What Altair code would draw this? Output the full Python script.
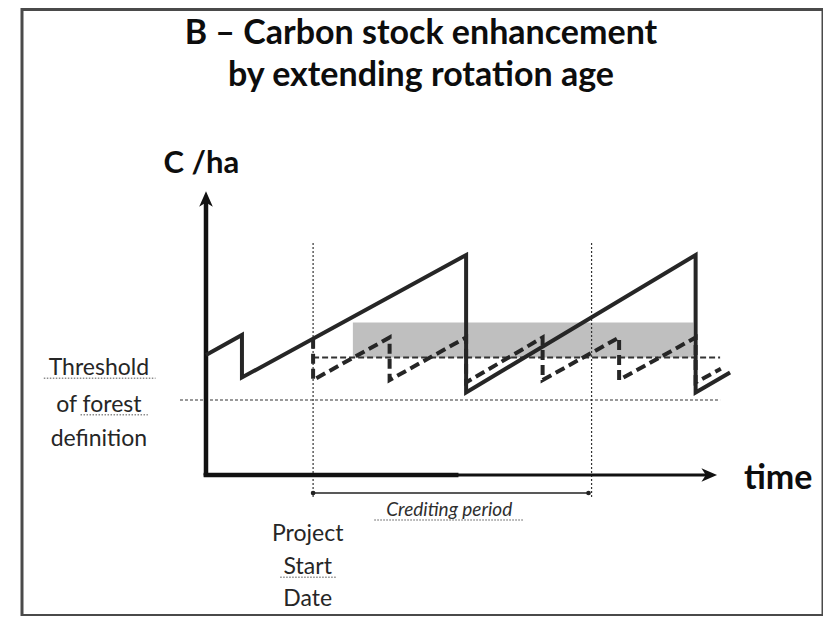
import altair as alt
import pandas as pd

# ---------------- data (time in years, carbon stock in arbitrary C/ha units) -------------
# project scenario: extended rotation (solid line)
proj_t = [0, 4.7, 4.7, 34, 34, 64, 64, 68.5]
proj_c = [48, 56, 39, 88, 33, 88, 33, 41]

# baseline scenario: short rotation (dashed line)
base_t = [14, 14, 24, 24, 34, 34, 44, 44, 54, 54, 64, 64, 67.3]
base_c = [54.5, 38, 55, 38, 55, 37, 55, 38, 55, 38, 55, 37, 42.5]

threshold_c = 30            # threshold of forest definition
threshold_t = [-3.4, 67.2]
base_avg_c = 47             # long-term average of baseline
base_avg_t = [14, 67.2]
gain_t = [19.2, 63.7]       # carbon stock enhancement band
gain_c = [47, 61]
project_start_t = 14
crediting_end_t = 50.4
marker_c = [-8.8, 92.8]
bracket_c = -7.2
y_axis_top = 113.5
x_axis_end = 66.8
x_axis_heavy_end = 33

title_lines = ["B \u2013 Carbon stock enhancement", "by extending rotation age"]
threshold_lines = ["Threshold", "of forest", "definition"]
psd_lines = ["Project", "Start", "Date"]

# ---------------- scales ----------------
W, H = 801, 606
xs = alt.Scale(domain=[-24.05, 80.65], range=[0, W], nice=False, zero=False)
ys = alt.Scale(domain=[-56.2, 186.2], range=[H, 0], nice=False, zero=False)
FONT = "Lato"
INK = "#262626"


def X(f="t"):
    return alt.X(f"{f}:Q", scale=xs, axis=None)


def Y(f="c"):
    return alt.Y(f"{f}:Q", scale=ys, axis=None)


# gain band
gain_df = pd.DataFrame({"t": [gain_t[0]], "t2": [gain_t[1]], "c": [gain_c[0]], "c2": [gain_c[1]]})
band = alt.Chart(gain_df).mark_rect(color="#bfbfbf").encode(
    x=X(), x2="t2:Q", y=Y(), y2="c2:Q")

# threshold dotted line
thr_df = pd.DataFrame({"t": [threshold_t[0]], "t2": [threshold_t[1]], "c": [threshold_c]})
thr = alt.Chart(thr_df).mark_rule(color="#333333", strokeWidth=1.2, strokeDash=[3, 2]).encode(
    x=X(), x2="t2:Q", y=Y())

# vertical markers (project start, end of crediting period)
mk_df = pd.DataFrame({"t": [project_start_t, crediting_end_t],
                      "c": [marker_c[0]] * 2, "c2": [marker_c[1]] * 2})
markers = alt.Chart(mk_df).mark_rule(color="#333333", strokeWidth=1.2, strokeDash=[2, 2]).encode(
    x=X(), y=Y(), y2="c2:Q")

# baseline average dashed line
avg_df = pd.DataFrame({"t": [base_avg_t[0]], "t2": [base_avg_t[1]], "c": [base_avg_c]})
avg = alt.Chart(avg_df).mark_rule(color="#333333", strokeWidth=2.2, strokeDash=[6, 3]).encode(
    x=X(), x2="t2:Q", y=Y())

# axes
yax_df = pd.DataFrame({"t": [0], "c": [0], "c2": [y_axis_top - 4]})
yax = alt.Chart(yax_df).mark_rule(color="#111111", strokeWidth=4.5).encode(x=X(), y=Y(), y2="c2:Q")
xax_df = pd.DataFrame({"t": [-0.3], "t2": [x_axis_end - 1.2], "c": [0]})
xax = alt.Chart(xax_df).mark_rule(color="#111111", strokeWidth=3).encode(x=X(), x2="t2:Q", y=Y())
xax2_df = pd.DataFrame({"t": [-0.3], "t2": [x_axis_heavy_end], "c": [0]})
xax2 = alt.Chart(xax2_df).mark_rule(color="#111111", strokeWidth=4.5).encode(x=X(), x2="t2:Q", y=Y())

ARROW = "M0,0 L-0.7,1.6 L0,1.15 L0.7,1.6 Z"
arr_df = pd.DataFrame({"t": [0, x_axis_end], "c": [y_axis_top, 0], "ang": [0, 90]})
arrows = alt.Chart(arr_df).mark_point(shape=ARROW, filled=True, color="#111111", size=380,
                                      opacity=1).encode(
    x=X(), y=Y(), angle=alt.Angle("ang:Q", scale=None))

# carbon stock lines
proj_df = pd.DataFrame({"t": proj_t, "c": proj_c, "i": range(len(proj_t))})
proj = alt.Chart(proj_df).mark_line(color=INK, strokeWidth=4).encode(x=X(), y=Y(), order="i:Q")
base_df = pd.DataFrame({"t": base_t, "c": base_c, "i": range(len(base_t))})
base = alt.Chart(base_df).mark_line(color=INK, strokeWidth=4, strokeDash=[10, 5]).encode(
    x=X(), y=Y(), order="i:Q")

# crediting period bracket
br_df = pd.DataFrame({"t": [project_start_t], "t2": [crediting_end_t - 0.4], "c": [bracket_c]})
bracket = alt.Chart(br_df).mark_rule(color="#222222", strokeWidth=1.6).encode(x=X(), x2="t2:Q", y=Y())
brp_df = pd.DataFrame({"t": [project_start_t, crediting_end_t - 0.4], "c": [bracket_c] * 2})
brp = alt.Chart(brp_df).mark_point(filled=True, color="#222222", size=22, opacity=1).encode(x=X(), y=Y())

# ---------------- text annotations ----------------
thr_base = [40.0, 25.4, 11.6]
psd_base = [-26.4, -39.6, -52.4]
ital_base = -16.4
txt_rows = []
for s, c in zip(title_lines, [172.4, 155.6]):
    txt_rows.append(dict(text=s, t=28.1, c=c, kind="title"))
for s, c in zip(threshold_lines, thr_base):
    txt_rows.append(dict(text=s, t=-14.0, c=c, kind="reg"))
for s, c in zip(psd_lines, psd_base):
    txt_rows.append(dict(text=s, t=13.3, c=c, kind="reg"))
txt_rows.append(dict(text="C /ha", t=-0.6, c=120.8, kind="lab"))
txt_rows.append(dict(text="time", t=74.8, c=-5.6, kind="time"))
txt_rows.append(dict(text="Crediting period", t=31.8, c=ital_base, kind="ital"))
tdf = pd.DataFrame(txt_rows)


def tlayer(kind, **kw):
    return alt.Chart(tdf).transform_filter(alt.datum.kind == kind).mark_text(
        font=FONT, baseline="alphabetic", align="center", **kw).encode(x=X(), y=Y(), text="text:N")


texts = [
    tlayer("title", fontSize=34, fontWeight="bold", color="#0d0d0d"),
    tlayer("reg", fontSize=23, color="#262626"),
    tlayer("lab", fontSize=31, fontWeight="bold", color="#0d0d0d"),
    tlayer("time", fontSize=34, fontWeight="bold", color="#0d0d0d"),
    tlayer("ital", fontSize=19, fontStyle="italic", color="#2e2e2e"),
]

# spell-check style dotted underlines (as in the source image)
ul_df = pd.DataFrame({
    "t": [-21.2, -16.4, 9.7, 22.0],
    "t2": [-6.6, -7.6, 17.0, 41.6],
    "c": [thr_base[0] - 1.3, thr_base[1] - 1.3, psd_base[1] - 1.3, ital_base - 1.6],
})
underl = alt.Chart(ul_df).mark_rule(color="#8c8c8c", strokeWidth=1.3, strokeDash=[1.5, 1.5]).encode(
    x=X(), x2="t2:Q", y=Y())

chart = alt.layer(
    band, thr, markers, avg, xax, xax2, yax, arrows, base, proj, bracket, brp, underl, *texts
).properties(
    width=W, height=H,
    padding={"left": 14, "top": 1.5, "right": 0, "bottom": 0},
    autosize=alt.AutoSizeParams(type="none"),
    background="white",
).configure_view(stroke="#4a4a4a", strokeWidth=3)

chart.save("out.html", embed_options={"renderer": "svg", "actions": False})
